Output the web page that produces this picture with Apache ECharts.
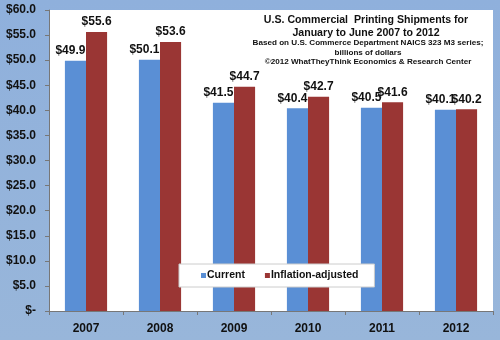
<!DOCTYPE html>
<html><head><meta charset="utf-8">
<script src="https://cdn.jsdelivr.net/npm/echarts@6/dist/echarts.min.js"></script>
<style>html,body{margin:0;padding:0;}#c{width:500px;height:340px;}</style>
</head><body><div id="c"></div>
<script>
var years = ['2007','2008','2009','2010','2011','2012'];
var current = [49.9, 50.1, 41.5, 40.4, 40.5, 40.1];
var inflationAdjusted = [55.6, 53.6, 44.7, 42.7, 41.6, 40.2];
var seriesNames = ['Current', 'Inflation-adjusted'];
var titleLines = ['U.S. Commercial  Printing Shipments for', 'January to June 2007 to 2012'];
var subLines = ['Based on U.S. Commerce Department NAICS 323 M3 series;', 'billions of dollars', '\u00a92012 WhatTheyThink Economics & Research Center'];

var FONT = 'Liberation Sans, Arial, sans-serif';
var chart = echarts.init(document.getElementById('c'), null, {renderer: 'canvas'});
function money(v){ return v === 0 ? '$-' : '$' + v.toFixed(1); }
function labelOpt(dx){
  return {show: true, position: 'top', distance: 4, offset: [dx, 0], color: '#111', fontFamily: FONT, fontWeight: 'bold', fontSize: 12,
    formatter: function(p){ return '$' + p.value.toFixed(1); }};
}
chart.setOption({
  animation: false,
  backgroundColor: new echarts.graphic.LinearGradient(0,0,0,1,[{offset:0,color:'#8fb0dc'},{offset:1,color:'#98b6da'}]),
  title: [{
    text: titleLines.join('\n'), left: 361, top: 9, textAlign: 'center',
    textStyle: {fontFamily: FONT, fontWeight: 'bold', fontSize: 10.6, lineHeight: 13, color: '#111'}
  },{
    text: subLines.join('\n'), left: 363, top: 33, textAlign: 'center',
    textStyle: {fontFamily: FONT, fontWeight: 'bold', fontSize: 8.1, lineHeight: 9.6, color: '#111'}
  }],
  legend: {
    data: seriesNames, left: 179, top: 264,
    backgroundColor: '#fff', borderColor: '#ccc', borderWidth: 1, padding: [6, 16, 6, 22],
    itemWidth: 5, itemHeight: 5, itemGap: 20, icon: 'rect',
    textStyle: {fontFamily: FONT, fontWeight: 'bold', fontSize: 10.5, color: '#111', padding: [0,0,0,-4]}
  },
  grid: {left: 49, right: 7, top: 10, bottom: 29, show: true, backgroundColor: '#fff', borderWidth: 0},
  xAxis: {
    type: 'category', data: years,
    axisLine: {lineStyle: {color: '#777'}},
    axisTick: {show: true, lineStyle: {color: '#777'}, length: 4},
    axisLabel: {color: '#111', fontFamily: FONT, fontWeight: 'bold', fontSize: 12, margin: 12}
  },
  yAxis: {
    type: 'value', min: 0, max: 60, interval: 5,
    axisLine: {show: true, lineStyle: {color: '#777'}},
    axisTick: {show: true, lineStyle: {color: '#777'}, length: 4},
    splitLine: {show: false},
    axisLabel: {color: '#111', fontFamily: FONT, fontWeight: 'bold', fontSize: 12, margin: 13, formatter: money}
  },
  series: [{
    name: seriesNames[0], type: 'bar', data: current, barGap: '0%', barCategoryGap: '43%',
    itemStyle: {color: '#5a8fd5'}, label: labelOpt(-5)
  },{
    name: seriesNames[1], type: 'bar', data: inflationAdjusted,
    itemStyle: {color: '#9a3634'}, label: labelOpt(0)
  }]
});
</script></body></html>
